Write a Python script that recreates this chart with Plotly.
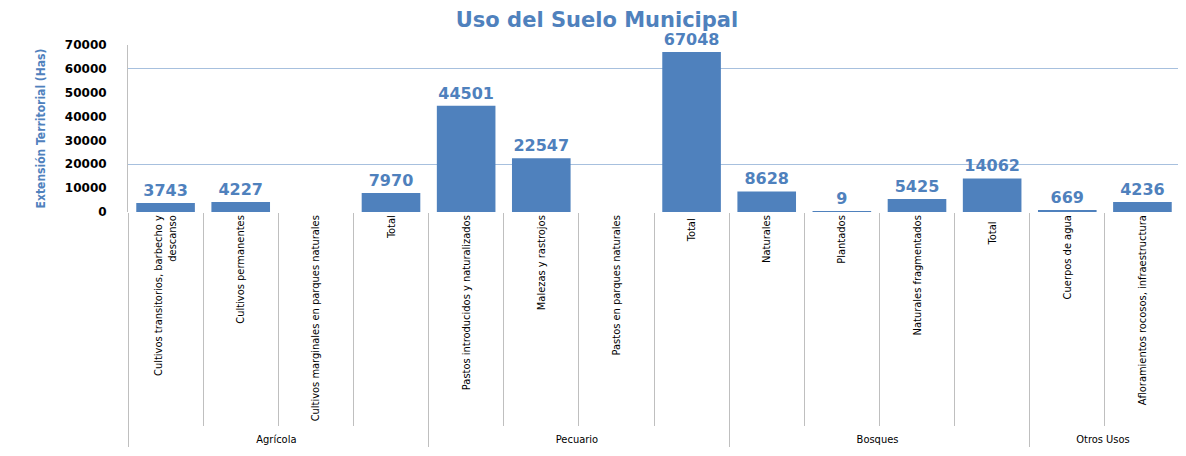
import plotly.graph_objects as go

groups = ["Agrícola"] * 4 + ["Pecuario"] * 4 + ["Bosques"] * 4 + ["Otros Usos"] * 2
categories = [
    "Cultivos transitorios, barbecho y<br>descanso",
    "Cultivos permanentes",
    "Cultivos marginales en parques naturales",
    "Total",
    "Pastos introducidos y naturalizados",
    "Malezas y rastrojos",
    "Pastos en parques naturales",
    "Total ",
    "Naturales",
    "Plantados",
    "Naturales fragmentados",
    "Total  ",
    "Cuerpos de agua",
    "Afloramientos rocosos, infraestructura",
]
values = [3743, 4227, None, 7970, 44501, 22547, None, 67048, 8628, 9, 5425, 14062, 669, 4236]
labels = ["" if v is None else str(v) for v in values]

BLUE = "#4F81BD"
GRID = "#A7C0DE"
COND = "DejaVu Sans Condensed, DejaVu Sans"

W, H = 1178, 448  # page body has an 8px margin

fig = go.Figure()
fig.add_trace(go.Bar(
    x=[groups, categories], y=values, text=labels, textposition="outside",
    marker=dict(color=BLUE, line=dict(width=0)),
    textfont=dict(family="DejaVu Sans", size=16, color=BLUE, weight="bold"),
    cliponaxis=False, showlegend=False,
))
# invisible trace on the overlay axis (provides the 20000/60000 gridlines and the right border)
fig.add_trace(go.Bar(
    x=[groups, categories], y=values, yaxis="y2", opacity=0, showlegend=False,
    hoverinfo="skip",
))

fig.update_layout(
    width=W, height=H,
    margin=dict(l=120, r=6, t=37, b=244),
    paper_bgcolor="white", plot_bgcolor="white",
    bargap=0.22,
    title=dict(text="<b>Uso del Suelo Municipal</b>", x=0.5, xanchor="center",
               y=1 - 11.5 / H, yanchor="middle",
               font=dict(family="DejaVu Sans", size=21, color=BLUE)),
    xaxis=dict(
        type="multicategory", tickangle=-90, tickson="boundaries", ticks="outside", ticklen=213,
        tickcolor="#BFBFBF", showline=False, showdividers=True, dividercolor="#BFBFBF", dividerwidth=1,
        tickfont=dict(family=COND, size=11, color="black"),
        automargin=False,
    ),
    yaxis=dict(
        range=[0, 70000], dtick=10000, tickformat="d", showgrid=False, showline=True, linecolor="#BFBFBF",
        ticks="", zeroline=False, automargin=False,
        tickfont=dict(family="DejaVu Sans", size=12, color="black", weight="bold"),
        ticklabelstandoff=18,
        title=dict(text="<b>Extensión Territorial (Has)</b>", standoff=16,
                   font=dict(family=COND, size=12, color=BLUE)),
    ),
    yaxis2=dict(
        overlaying="y", side="right", range=[0, 70000], tick0=20000, dtick=40000,
        showgrid=True, gridcolor=GRID, gridwidth=1, showticklabels=False, ticks="",
        showline=True, linecolor=GRID, zeroline=False, automargin=False,
    ),
)

fig.write_html("out.html")
